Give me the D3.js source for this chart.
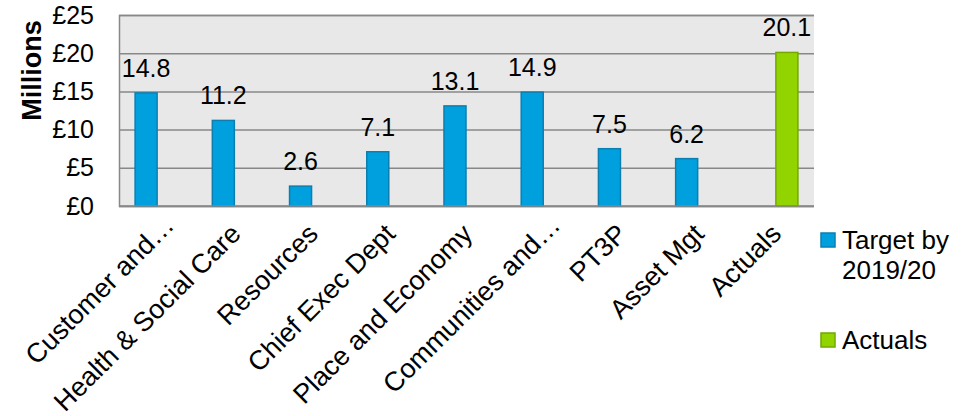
<!DOCTYPE html>
<html>
<head>
<meta charset="utf-8">
<script src="https://cdn.jsdelivr.net/npm/d3@7"></script>
<style>
  html, body { margin: 0; padding: 0; background: #ffffff; }
  svg { display: block; font-family: "Liberation Sans", Arial, sans-serif; }
</style>
</head>
<body>
<svg id="chart" width="968" height="416"></svg>
<script>
// ---- data ----
const categories = ["Customer and\u2026", "Health & Social Care", "Resources", "Chief Exec Dept",
  "Place and Economy", "Communities and\u2026", "PT3P", "Asset Mgt", "Actuals"];
const targetValues = [14.8, 11.2, 2.6, 7.1, 13.1, 14.9, 7.5, 6.2, null];
const actualValues = [null, null, null, null, null, null, null, null, 20.1];
const seriesNames = ["Target by 2019/20", "Actuals"];
const yTickValues = [0, 5, 10, 15, 20, 25];
const yAxisTitle = "Millions";

// ---- layout ----
const svg = d3.select("#chart");
const plot = { left: 119, right: 814, top: 15, bottom: 206 };
const colors = { fill: ["#00a0de", "#92d400"], stroke: ["#0a7fb0", "#72a800"] };
const fontSize = 25;

const x0 = d3.scaleBand().domain(categories).range([plot.left, plot.right])
  .paddingInner(0.404).paddingOuter(0.202);
const x1 = d3.scaleBand().domain(seriesNames).range([0, x0.bandwidth()]);
const y = d3.scaleLinear().domain([0, 25]).range([plot.bottom, plot.top]);

// plot background
svg.append("rect")
  .attr("x", plot.left).attr("y", plot.top)
  .attr("width", plot.right - plot.left).attr("height", plot.bottom - plot.top)
  .attr("fill", "#e8e8e8");

// gridlines + y axis
const yAxis = d3.axisLeft(y).tickValues(yTickValues).tickSize(-(plot.right - plot.left))
  .tickFormat(d => "\u00a3" + d).tickPadding(25);
const gy = svg.append("g").attr("transform", `translate(${plot.left},0)`).call(yAxis);
gy.select(".domain").attr("stroke", "#888888").attr("stroke-width", 1.5);
gy.selectAll(".tick line").attr("stroke", "#888888").attr("stroke-width", 1.5);
gy.selectAll(".tick text").attr("font-size", fontSize).attr("fill", "#000")
  .attr("font-family", "Liberation Sans, Arial, sans-serif");

// y title
svg.append("text")
  .attr("transform", `translate(41,${(plot.top + plot.bottom) / 2 - 40}) rotate(-90)`)
  .attr("text-anchor", "middle")
  .attr("font-size", 27).attr("font-weight", "bold").attr("fill", "#000")
  .text(yAxisTitle);

// bars
const seriesData = [targetValues, actualValues];
seriesData.forEach((vals, si) => {
  const pts = categories.map((c, i) => ({ c, v: vals[i] })).filter(d => d.v != null);
  const g = svg.append("g");
  g.selectAll("rect").data(pts).join("rect")
    .attr("x", d => x0(d.c) + x1(seriesNames[si]) + 0.5)
    .attr("y", d => y(d.v))
    .attr("width", x1.bandwidth() - 1)
    .attr("height", d => y(0) - y(d.v))
    .attr("fill", colors.fill[si])
    .attr("stroke", colors.stroke[si]).attr("stroke-width", 1.5);
  g.selectAll("text").data(pts).join("text")
    .attr("x", d => x0(d.c) + x1(seriesNames[si]) + x1.bandwidth() / 2)
    .attr("y", d => y(d.v) - 16)
    .attr("text-anchor", "middle")
    .attr("font-size", fontSize).attr("fill", "#000")
    .text(d => d3.format(".1f")(d.v));
});

// x axis line (bottom)
svg.append("line")
  .attr("x1", plot.left).attr("x2", plot.right)
  .attr("y1", plot.bottom).attr("y2", plot.bottom)
  .attr("stroke", "#888888").attr("stroke-width", 1.5);

// x labels
svg.append("g").selectAll("text").data(categories).join("text")
  .attr("transform", d => {
    const c = x0(d) + x0.bandwidth() / 2;
    const truncated = d.endsWith("\u2026");
    const dx = truncated ? 18 : 7.5, dy = truncated ? 21 : 29.5;
    return `translate(${c + dx},${plot.bottom + dy}) rotate(-45)`;
  })
  .attr("text-anchor", "end")
  .attr("font-size", 27).attr("fill", "#000")
  .text(d => d);

// legend
const legend = svg.append("g");
const legendY = [233, 333];
seriesNames.forEach((s, i) => {
  const g = legend.append("g").attr("transform", `translate(821,${legendY[i]})`);
  g.append("rect").attr("width", 14).attr("height", 14)
    .attr("fill", colors.fill[i]).attr("stroke", colors.stroke[i]).attr("stroke-width", 1.5);
  const words = s.split(" ");
  const lines = words.length > 2 ? [words.slice(0, 2).join(" "), words.slice(2).join(" ")] : [s];
  lines.forEach((ln, k) => {
    g.append("text").attr("x", 21).attr("y", 16 + k * 30)
      .attr("font-size", 26).attr("fill", "#000").text(ln);
  });
});
</script>
</body>
</html>
